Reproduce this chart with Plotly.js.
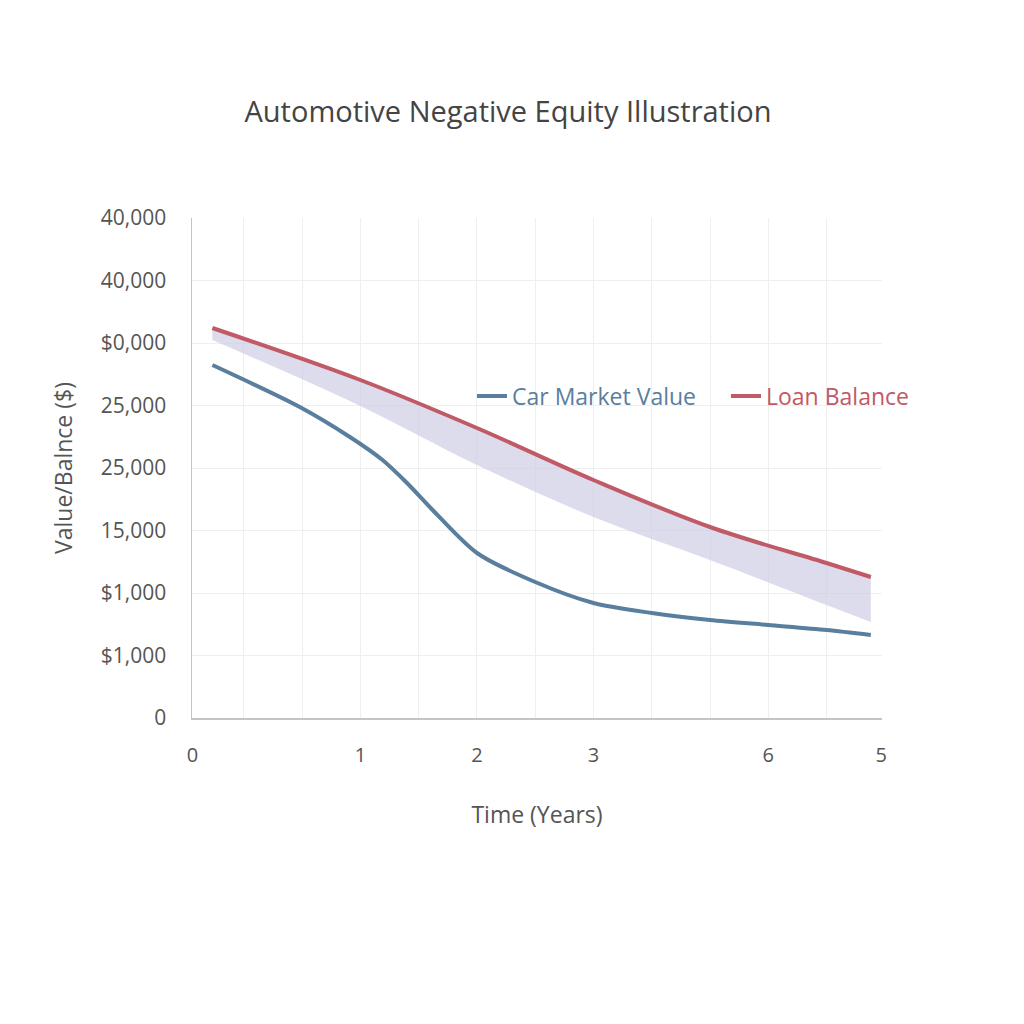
<!DOCTYPE html>
<html>
<head>
<meta charset="utf-8">
<script src="https://cdn.plot.ly/plotly-3.0.1.min.js"></script>
<style>html,body{margin:0;padding:0;background:#fff;}#chart{width:1024px;height:1024px;}</style>
</head>
<body>
<div id="chart"></div>
<script>
// Data
const carX = [-0.27, 0.48, 0.91, 1.19, 1.4, 1.62, 2, 2.5, 3, 3.5, 4, 4.5, 5, 5.38];
const carValue = [28240, 24880, 22480, 20640, 18800, 16640, 13200, 10880, 9200, 8400, 7840, 7440, 7040, 6640];
const loanX = [-0.27, 1, 2, 3, 4, 5, 5.38];
const loanBalance = [31200, 27040, 23200, 19040, 15280, 12400, 11280];
const bandX = [-0.27, 1, 2, 3, 4, 5, 5.38];
const bandLower = [30240, 24960, 20240, 16080, 12640, 9040, 7680];

const yTickVals = [0, 5000, 10000, 15000, 20000, 25000, 30000, 35000, 40000];
const yTickText = ['0', '$1,000', '$1,000', '15,000', '25,000', '25,000', '$0,000', '40,000', '40,000'];
const xTickVals = [-0.44, 1, 2, 3, 4.5, 5.47];
const xTickText = ['0', '1', '2', '3', '6', '5'];
const xGridVals = [0, 0.5, 1, 1.5, 2, 2.5, 3, 3.5, 4, 4.5, 5];

const blue = '#5a7e9d';
const red = '#c05a66';

const traces = [
  {x: bandX, y: bandLower, mode: 'lines', line: {width: 0, shape: 'spline'}, showlegend: false, hoverinfo: 'skip'},
  {x: loanX, y: loanBalance, mode: 'lines', line: {width: 0, shape: 'spline'}, fill: 'tonexty',
   fillcolor: 'rgba(205,205,228,0.7)', showlegend: false, hoverinfo: 'skip'},
  {x: carX, y: carValue, mode: 'lines', name: '<span style="color:' + blue + '">Car Market Value</span>',
   line: {color: blue, width: 4, shape: 'spline', smoothing: 0.8}},
  {x: loanX, y: loanBalance, mode: 'lines', name: '<span style="color:' + red + '">Loan Balance</span>',
   line: {color: red, width: 4, shape: 'spline'}}
];

const layout = {
  width: 1024, height: 1024,
  paper_bgcolor: '#ffffff', plot_bgcolor: '#ffffff',
  margin: {l: 192, r: 142, t: 218, b: 306},
  font: {family: '"Open Sans", "Noto Sans", sans-serif', color: '#555555'},
  title: {text: 'Automotive Negative Equity Illustration', x: 508/1024, xref: 'container', xanchor: 'center',
          y: 1 - 112/1024, yref: 'container', yanchor: 'middle',
          font: {size: 29, color: '#444444'}},
  xaxis: {
    range: [-0.445, 5.476], tickmode: 'array', tickvals: xTickVals, ticktext: xTickText, automargin: false,
    showgrid: false, zeroline: false, showline: true, linecolor: '#c4c4c4', linewidth: 1.5,
    ticks: '', ticklabelstandoff: 18, tickfont: {size: 20, color: '#555555'},
    minor: {tickmode: 'array', tickvals: xGridVals, showgrid: true, gridcolor: '#efefef', gridwidth: 1, ticks: ''},
    title: {text: 'Time (Years)', font: {size: 23, color: '#555555'}, standoff: 40}
  },
  yaxis: {
    range: [0, 40000], tickmode: 'array', tickvals: yTickVals, ticktext: yTickText, automargin: false,
    showgrid: true, gridcolor: '#efefef', gridwidth: 1, zeroline: false,
    showline: true, linecolor: '#c4c4c4', linewidth: 1.5,
    ticks: '', ticklabelstandoff: 20, tickfont: {size: 21, color: '#555555'},
    title: {text: 'Value/Balnce ($)', font: {size: 23, color: '#555555'}, standoff: 22}
  },
  showlegend: true,
  legend: {orientation: 'h', traceorder: 'normal', x: (472 - 192)/690, y: (718 - 396)/500,
           xref: 'paper', yref: 'paper', yanchor: 'middle', xanchor: 'left',
           entrywidth: 209, entrywidthmode: 'pixels',
           bgcolor: 'rgba(0,0,0,0)', font: {size: 23}}
};

Plotly.newPlot('chart', traces, layout, {displayModeBar: false, staticPlot: true});
</script>
</body>
</html>
